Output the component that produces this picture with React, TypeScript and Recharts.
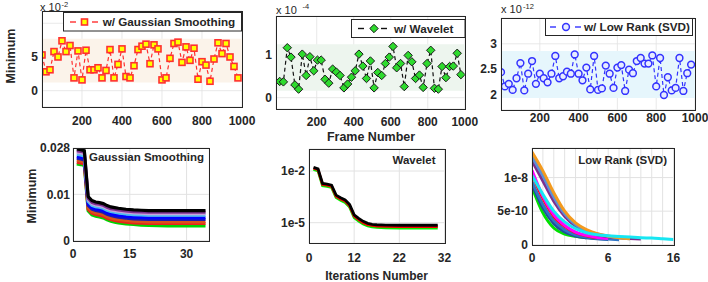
import React from 'react';
import { LineChart, Line, XAxis, YAxis, CartesianGrid, ReferenceArea } from 'recharts';

// frame numbers for the top row
const frames = Array.from({ length: 50 }, (_, i) => i * 20);
const waveletFrames = Array.from({ length: 49 }, (_, i) => Math.round(i * 20.4));

// minimum per frame (x 1e-2)
const gaussianMin = [
  5.3, 2.8, 3.1, 5.8, 5.0, 7.4, 5.8, 6.7, 1.9, 5.9,
  1.6, 6.0, 3.1, 3.1, 3.4, 1.9, 3.0, 6.1, 1.9, 3.9,
  6.2, 2.1, 1.9, 3.7, 6.1, 6.6, 6.9, 4.0, 6.8, 6.2,
  1.6, 1.9, 4.8, 7.0, 7.2, 4.2, 6.5, 4.5, 6.3, 1.7,
  4.3, 3.8, 1.4, 4.7, 7.1, 5.5, 7.0, 5.0, 3.6, 1.9,
];
// minimum per frame (x 1e-4)
const waveletMin = [
  0.38, 0.37, 1.17, 0.95, 0.3, 0.2, 1.02, 0.52, 0.96, 0.63,
  0.88, 0.88, 0.43, 0.34, 0.67, 0.6, 0.52, 0.23, 0.32, 0.48,
  0.63, 1.02, 0.74, 0.45, 0.86, 0.23, 0.59, 0.52, 0.8, 0.95,
  1.2, 0.7, 0.8, 0.26, 0.99, 0.84, 0.45, 0.53, 0.24, 0.8,
  1.11, 0.22, 0.2, 0.73, 0.47, 0.73, 0.74, 1.04, 0.54,
];
// minimum per frame (x 1e-12)
const lowRankMin = [
  2.44, 2.16, 2.21, 2.09, 2.32, 2.62, 2.08, 2.41, 2.66, 2.21,
  2.41, 2.32, 2.24, 2.41, 2.76, 2.32, 2.36, 2.45, 2.41, 2.79,
  2.41, 2.28, 2.53, 2.1, 2.76, 2.09, 2.12, 2.57, 2.41, 2.13,
  2.53, 2.58, 2.07, 2.49, 2.42, 2.66, 2.72, 2.61, 2.61, 2.77,
  2.16, 2.72, 1.99, 2.34, 2.08, 2.13, 2.72, 2.07, 2.42, 2.59,
];

// Gaussian smoothing convergence
const gsIter = [1, 2, 3, 4, 5, 6, 7, 8, 9, 10, 11, 12, 14, 16, 18, 20, 25, 30, 35];
const gsSeries = [
  { key: 'green', color: '#00D400', v: [0.0232, 0.023, 0.0227, 0.009, 0.0078, 0.0074, 0.0072, 0.0069, 0.0063, 0.0059, 0.0056, 0.0054, 0.0051, 0.0049, 0.0047, 0.0046, 0.0045, 0.0045, 0.0045] },
  { key: 'red', color: '#E8231A', v: [0.0237, 0.0235, 0.0232, 0.0095, 0.0083, 0.0079, 0.0077, 0.0074, 0.0068, 0.0064, 0.0061, 0.0059, 0.0056, 0.0054, 0.0053, 0.0052, 0.0052, 0.0052, 0.0052] },
  { key: 'orange', color: '#D95319', v: [0.0243, 0.0241, 0.0238, 0.01, 0.0088, 0.0084, 0.0082, 0.0079, 0.0073, 0.0069, 0.0066, 0.0064, 0.0061, 0.0059, 0.0058, 0.0057, 0.0057, 0.0057, 0.0057] },
  { key: 'navy', color: '#1A1AB0', v: [0.0249, 0.0247, 0.0244, 0.0107, 0.0095, 0.0091, 0.0089, 0.0086, 0.008, 0.0076, 0.0073, 0.0071, 0.0068, 0.0066, 0.0065, 0.0064, 0.0064, 0.0064, 0.0064] },
  { key: 'blue', color: '#0000FF', v: [0.0254, 0.0252, 0.0249, 0.0112, 0.01, 0.0096, 0.0094, 0.0091, 0.0085, 0.0081, 0.0078, 0.0076, 0.0073, 0.0071, 0.007, 0.0069, 0.0069, 0.0069, 0.0069] },
  { key: 'sky', color: '#4DBEEE', v: [0.0261, 0.0259, 0.0256, 0.0119, 0.0107, 0.0103, 0.0101, 0.0098, 0.0092, 0.0088, 0.0086, 0.0084, 0.0081, 0.0079, 0.0078, 0.0077, 0.0077, 0.0077, 0.0077] },
  { key: 'plum', color: '#C9A0DC', v: [0.0267, 0.0265, 0.0262, 0.0124, 0.0112, 0.0108, 0.0106, 0.0103, 0.0097, 0.0093, 0.0091, 0.0089, 0.0086, 0.0084, 0.0083, 0.0082, 0.0082, 0.0082, 0.0082] },
  { key: 'purple', color: '#7E2F8E', v: [0.0272, 0.027, 0.0267, 0.0128, 0.0116, 0.0112, 0.011, 0.0107, 0.0101, 0.0097, 0.0095, 0.0093, 0.009, 0.0088, 0.0087, 0.0086, 0.0086, 0.0086, 0.0086] },
  { key: 'black', color: '#000000', v: [0.0277, 0.0275, 0.0272, 0.0133, 0.0121, 0.0117, 0.0115, 0.0112, 0.0106, 0.0102, 0.01, 0.0098, 0.0095, 0.0093, 0.0092, 0.0091, 0.0091, 0.0091, 0.0091] },
];

// wavelet convergence (log scale)
const wvIter = [1, 2, 3, 4, 5, 6, 7, 8, 9, 10, 11, 12, 13, 14, 15, 17, 20, 25, 28.5];
const wvSeries = [
  { key: 'green', color: '#00F000', v: [1.25e-2, 1.02e-2, 1.4e-3, 1.28e-3, 1.1e-3, 2.9e-4, 2.0e-4, 1.5e-4, 8.0e-5, 2.0e-5, 1.25e-5, 8.5e-6, 6.5e-6, 5.7e-6, 5.3e-6, 5.0e-6, 4.9e-6, 4.9e-6, 4.9e-6] },
  { key: 'red', color: '#FF0000', v: [1.45e-2, 1.18e-2, 1.65e-3, 1.5e-3, 1.3e-3, 3.4e-4, 2.4e-4, 1.8e-4, 9.5e-5, 2.4e-5, 1.5e-5, 1.0e-5, 7.7e-6, 6.9e-6, 6.4e-6, 6.1e-6, 6.0e-6, 6.0e-6, 6.0e-6] },
  { key: 'black', color: '#000000', v: [1.62e-2, 1.32e-2, 1.9e-3, 1.74e-3, 1.51e-3, 3.98e-4, 2.82e-4, 2.09e-4, 1.12e-4, 2.82e-5, 1.78e-5, 1.2e-5, 9.1e-6, 8.1e-6, 7.6e-6, 7.2e-6, 7.1e-6, 7.1e-6, 7.1e-6] },
];

// low rank convergence (axis units: 1 = 5e-10)
const lrIter = [0, 1, 2, 3, 4, 5, 6, 7, 8, 9, 10, 11, 12, 13];
const lrSeries = [
  { key: 'green', color: '#00E000', v: [1.72, 0.95, 0.5, 0.32, 0.25, 0.21, null, null, null, null, null, null, null, null] },
  { key: 'navy', color: '#1F4E9E', v: [1.8, 1.1, 0.63, 0.38, 0.26, 0.21, 0.18, 0.16, null, null, null, null, null, null] },
  { key: 'blue', color: '#2E75C6', v: [1.87, 1.2, 0.72, 0.45, 0.3, 0.23, 0.19, 0.17, 0.15, null, null, null, null, null] },
  { key: 'red', color: '#FF1010', v: [2.1, 1.38, 0.85, 0.55, 0.36, 0.27, 0.21, null, null, null, null, null, null, null] },
  { key: 'magenta', color: '#FF00FF', v: [2.22, 1.45, 0.9, 0.58, 0.38, 0.28, 0.22, 0.19, null, null, null, null, null, null] },
  { key: 'purple', color: '#7E2F8E', v: [2.5, 1.9, 1.3, 0.85, 0.56, 0.4, 0.3, 0.24, 0.21, 0.19, 0.17, null, null, null] },
  { key: 'steel', color: '#5B8FD6', v: [2.62, 2.05, 1.42, 0.92, 0.6, 0.42, 0.32, 0.25, 0.21, 0.18, null, null, null, null] },
  { key: 'orange', color: '#F39A1E', v: [2.76, 2.2, 1.55, 1.0, 0.65, 0.45, 0.33, 0.26, 0.21, 0.18, null, null, null, null] },
  { key: 'cyan', color: '#17E6F2', v: [2.06, 1.5, 1.0, 0.68, 0.48, 0.36, 0.3, 0.27, 0.25, 0.23, 0.21, 0.2, 0.18, 0.16] },
];

const FONT = '"Liberation Sans", Arial, Helvetica, sans-serif';
const INK = '#262626';
const GRID = '#E2E2E2';
const tickStyle = { fontSize: 12, fontWeight: 700, fill: INK, fontFamily: FONT };

type Rect = { x: number; y: number; w: number; h: number };

const R = {
  tl: { x: 41.5, y: 11, w: 200, h: 96 },
  tm: { x: 276.3, y: 16, w: 188.8, h: 93 },
  tr: { x: 501.3, y: 17.5, w: 194, h: 91.8 },
  bl: { x: 73, y: 148, w: 136.3, h: 92.7 },
  bm: { x: 308.5, y: 149, w: 135.5, h: 94.3 },
  br: { x: 531.5, y: 147.5, w: 141.5, h: 96.8 },
};

const TOP = 10;
const RIGHT = 20;
const XH = 30;

function place(r: Rect, yw: number) {
  return {
    style: { position: 'absolute' as const, left: r.x - yw, top: r.y - TOP },
    width: yw + r.w + RIGHT,
    height: TOP + r.h + XH,
    margin: { top: TOP, right: RIGHT, bottom: 0, left: 0 },
  };
}

const squareDot = (p: any) => {
  const { cx, cy, index } = p;
  if (cx == null || cy == null) return <g key={index} />;
  return <rect key={index} x={cx - 3} y={cy - 3} width={6} height={6} fill="#FFFF00" stroke="#FF3030" strokeWidth={1.6} />;
};
const diamondDot = (p: any) => {
  const { cx, cy, index } = p;
  if (cx == null || cy == null) return <g key={index} />;
  return (
    <polygon
      key={index}
      points={`${cx},${cy - 4.2} ${cx + 4.2},${cy} ${cx},${cy + 4.2} ${cx - 4.2},${cy}`}
      fill="#2EDB2E"
      stroke="#1A1A1A"
      strokeWidth={1}
    />
  );
};
const circleDot = (p: any) => {
  const { cx, cy, index } = p;
  if (cx == null || cy == null) return <g key={index} />;
  return <circle key={index} cx={cx} cy={cy} r={3.4} fill="#E6EBFF" stroke="#3333FF" strokeWidth={1.5} />;
};

function TopPanel(props: {
  rect: Rect;
  yw: number;
  xs: number[];
  ys: number[];
  xDomain: [number, number];
  yDomain: [number, number];
  yTicks: number[];
  yFmt: (v: number) => string;
  band: [number, number];
  bandColor: string;
  lineColor: string;
  dot: any;
  xMargin: number;
}) {
  const p = place(props.rect, props.yw);
  const data = props.xs.map((x, i) => ({ x, y: props.ys[i] }));
  return (
    <LineChart {...p} data={data}>
      <ReferenceArea y1={props.band[0]} y2={props.band[1]} fill={props.bandColor} fillOpacity={1} stroke="none" ifOverflow="hidden" />
      <CartesianGrid stroke={GRID} strokeOpacity={0.8} />
      <XAxis
        dataKey="x"
        type="number"
        domain={props.xDomain}
        ticks={[200, 400, 600, 800, 1000]}
        interval={0}
        allowDataOverflow
        axisLine={false}
        tickLine={false}
        tickSize={0}
        tickMargin={props.xMargin}
        height={XH}
        tick={tickStyle}
      />
      <YAxis
        type="number"
        domain={props.yDomain}
        ticks={props.yTicks}
        interval={0}
        allowDataOverflow
        axisLine={false}
        tickLine={false}
        tickSize={0}
        tickMargin={4}
        width={props.yw}
        tick={tickStyle}
        tickFormatter={props.yFmt}
      />
      <Line
        dataKey="y"
        type="linear"
        stroke={props.lineColor}
        strokeWidth={1.2}
        strokeDasharray="4 3"
        dot={props.dot}
        activeDot={false}
        isAnimationActive={false}
      />
    </LineChart>
  );
}

function buildRows(xs: number[], series: { key: string; v: (number | null)[] }[]) {
  return xs.map((x, i) => {
    const row: Record<string, number | null> = { x };
    series.forEach((s) => {
      row[s.key] = s.v[i];
    });
    return row;
  });
}

const gsFmt = (v: number) => (v === 0 ? '0' : v === 0.014 ? '0.01' : '0.028');
const wvXFmt = (v: number) => ({ 0: '0', 10: '12', 20: '22', 30: '32' } as Record<number, string>)[v] ?? '';
const wvYFmt = (v: number) => (v > 1e-3 ? '1e-2' : '1e-5');
const lrXFmt = (v: number) => (v === 0 ? '0' : v === 7 ? '6' : v === 13 ? '16' : '');
const lrYFmt = (v: number) => (v === 0 ? '0' : v === 1 ? '5e-10' : '1e-8');

function Overlay() {
  const box = (r: Rect) => (
    <rect x={Math.round(r.x) + 0.5} y={Math.round(r.y) + 0.5} width={Math.round(r.w)} height={Math.round(r.h)} fill="none" stroke={INK} strokeWidth={1} />
  );
  const bold = { fontFamily: FONT, fontWeight: 700, fill: INK } as const;
  const normal = { fontFamily: FONT, fill: INK } as const;
  return (
    <svg width={708} height={282} style={{ position: 'absolute', left: 0, top: 0, pointerEvents: 'none' }}>
      {box(R.tl)}
      {box(R.tm)}
      {box(R.tr)}
      {box(R.bl)}
      {box(R.bm)}
      {box(R.br)}

      {/* exponent labels */}
      <text x={40} y={10.5} fontSize={11} {...normal}>x 10</text>
      <text x={61.5} y={6.5} fontSize={7.5} {...normal}>-2</text>
      <text x={276} y={13.5} fontSize={11} {...normal}>x 10</text>
      <text x={302.5} y={9} fontSize={7.5} {...normal}>-4</text>
      <text x={501} y={13} fontSize={11} {...normal}>x 10</text>
      <text x={523} y={8.5} fontSize={7.5} {...normal}>-12</text>

      {/* axis titles */}
      <text x={0} y={0} fontSize={12.5} {...bold} textAnchor="middle" transform="translate(14.5,56) rotate(-90)">Minimum</text>
      <text x={0} y={0} fontSize={12.5} {...bold} textAnchor="middle" transform="translate(35.5,196) rotate(-90)">Minimum</text>
      <text x={371} y={140.5} fontSize={12.5} {...bold} textAnchor="middle">Frame Number</text>
      <text x={376.5} y={279.5} fontSize={12} {...bold} textAnchor="middle">Iterations Number</text>

      {/* panel titles */}
      <text x={204} y={161} fontSize={11.5} {...bold} textAnchor="end">Gaussian Smoothing</text>
      <text x={435.5} y={163.5} fontSize={11.5} {...bold} textAnchor="end">Wavelet</text>
      <text x={667} y={164} fontSize={11.5} {...bold} textAnchor="end">Low Rank (SVD)</text>

      {/* legends */}
      <rect x={63.5} y={12.5} width={178} height={18.5} fill="#fff" stroke={INK} strokeWidth={1} />
      <line x1={70} y1={22} x2={76} y2={22} stroke="#FF3030" strokeWidth={1.4} />
      <line x1={92} y1={22} x2={98} y2={22} stroke="#FF3030" strokeWidth={1.4} />
      <rect x={81.5} y={19} width={6} height={6} fill="#FFFF00" stroke="#FF3030" strokeWidth={1.6} />
      <text x={102.7} y={26.2} fontSize={11.7} {...bold}>w/ Gaussian Smoothing</text>

      <rect x={351.5} y={19.5} width={113.5} height={18} fill="#fff" stroke={INK} strokeWidth={1} />
      <line x1={358} y1={28.5} x2={364} y2={28.5} stroke="#111" strokeWidth={1.4} />
      <line x1={381} y1={28.5} x2={387} y2={28.5} stroke="#111" strokeWidth={1.4} />
      <polygon points="374,24.3 378.2,28.5 374,32.7 369.8,28.5" fill="#2EDB2E" stroke="#1A1A1A" strokeWidth={1} />
      <text x={394} y={32.7} fontSize={11.7} {...bold}>w/ Wavelet</text>

      <rect x={545.5} y={18.5} width={147} height={17} fill="#fff" stroke={INK} strokeWidth={1} />
      <line x1={550} y1={27} x2={556} y2={27} stroke="#3333FF" strokeWidth={1.4} />
      <line x1={575} y1={27} x2={581} y2={27} stroke="#3333FF" strokeWidth={1.4} />
      <circle cx={566} cy={27} r={3.4} fill="#E6EBFF" stroke="#3333FF" strokeWidth={1.5} />
      <text x={584} y={31.2} fontSize={11.7} {...bold}>w/ Low Rank (SVD)</text>
    </svg>
  );
}

export default function App() {
  const gsRows = buildRows(gsIter, gsSeries);
  const wvRows = buildRows(wvIter, wvSeries);
  const lrRows = buildRows(lrIter, lrSeries);

  const axisCommon = {
    axisLine: false,
    tickLine: false,
    tickSize: 0,
    tick: tickStyle,
    interval: 0 as const,
    allowDataOverflow: true,
  };

  return (
    <div style={{ position: 'absolute', left: 0, top: 0, width: 708, height: 282, background: '#fff', fontFamily: FONT, overflow: 'hidden' }}>
      <TopPanel
        rect={R.tl}
        yw={40}
        xs={frames}
        ys={gaussianMin}
        xDomain={[0, 1000]}
        yDomain={[-2.42, 11.82]}
        yTicks={[0, 5, 10]}
        yFmt={(v) => (v === 10 ? '' : String(v))}
        band={[1.2, 7.7]}
        bandColor="#FBF3EA"
        lineColor="#FF3030"
        dot={squareDot}
        xMargin={9}
      />
      <TopPanel
        rect={R.tm}
        yw={50}
        xs={waveletFrames}
        ys={waveletMin}
        xDomain={[-20, 1000]}
        yDomain={[-0.265, 1.913]}
        yTicks={[0, 1]}
        yFmt={(v) => String(v)}
        band={[0.16, 1.25]}
        bandColor="#EDF5EE"
        lineColor="#111111"
        dot={diamondDot}
        xMargin={8.5}
      />
      <TopPanel
        rect={R.tr}
        yw={50}
        xs={frames}
        ys={lowRankMin}
        xDomain={[0, 1000]}
        yDomain={[1.698, 3.509]}
        yTicks={[2, 2.5, 3]}
        yFmt={(v) => String(v)}
        band={[1.93, 2.86]}
        bandColor="#E6F6FC"
        lineColor="#3333FF"
        dot={circleDot}
        xMargin={4}
      />

      <LineChart {...place(R.bl, 60)} data={gsRows}>
        <CartesianGrid stroke={GRID} />
        <XAxis dataKey="x" type="number" domain={[0, 36]} ticks={[0, 15, 30]} tickMargin={9} height={XH} {...axisCommon} />
        <YAxis type="number" domain={[0, 0.028]} ticks={[0, 0.014, 0.028]} tickFormatter={gsFmt} tickMargin={3} width={60} {...axisCommon} />
        {gsSeries.map((s) => (
          <Line key={s.key} dataKey={s.key} type="linear" stroke={s.color} strokeWidth={3.2} dot={false} activeDot={false} isAnimationActive={false} />
        ))}
      </LineChart>

      <LineChart {...place(R.bm, 50)} data={wvRows}>
        <CartesianGrid stroke={GRID} />
        <XAxis dataKey="x" type="number" domain={[0, 30]} ticks={[0, 10, 20, 30]} tickFormatter={wvXFmt} tickMargin={10} height={XH} {...axisCommon} />
        <YAxis type="number" scale="log" domain={[6.37e-7, 0.189]} ticks={[1e-5, 1e-2]} tickFormatter={wvYFmt} tickMargin={4} width={50} {...axisCommon} />
        {wvSeries.map((s) => (
          <Line key={s.key} dataKey={s.key} type="linear" stroke={s.color} strokeWidth={2.8} dot={false} activeDot={false} isAnimationActive={false} />
        ))}
      </LineChart>

      <LineChart {...place(R.br, 50)} data={lrRows}>
        <CartesianGrid stroke={GRID} />
        <XAxis dataKey="x" type="number" domain={[0, 13]} ticks={lrIter} tickFormatter={lrXFmt} tickMargin={9} height={XH} {...axisCommon} />
        <YAxis type="number" domain={[0, 2.88]} ticks={[0, 1, 2]} tickFormatter={lrYFmt} tickMargin={4} width={50} {...axisCommon} />
        {lrSeries.map((s) => (
          <Line key={s.key} dataKey={s.key} type="monotone" stroke={s.color} strokeWidth={3} dot={false} activeDot={false} connectNulls={false} isAnimationActive={false} />
        ))}
      </LineChart>

      <Overlay />
    </div>
  );
}
